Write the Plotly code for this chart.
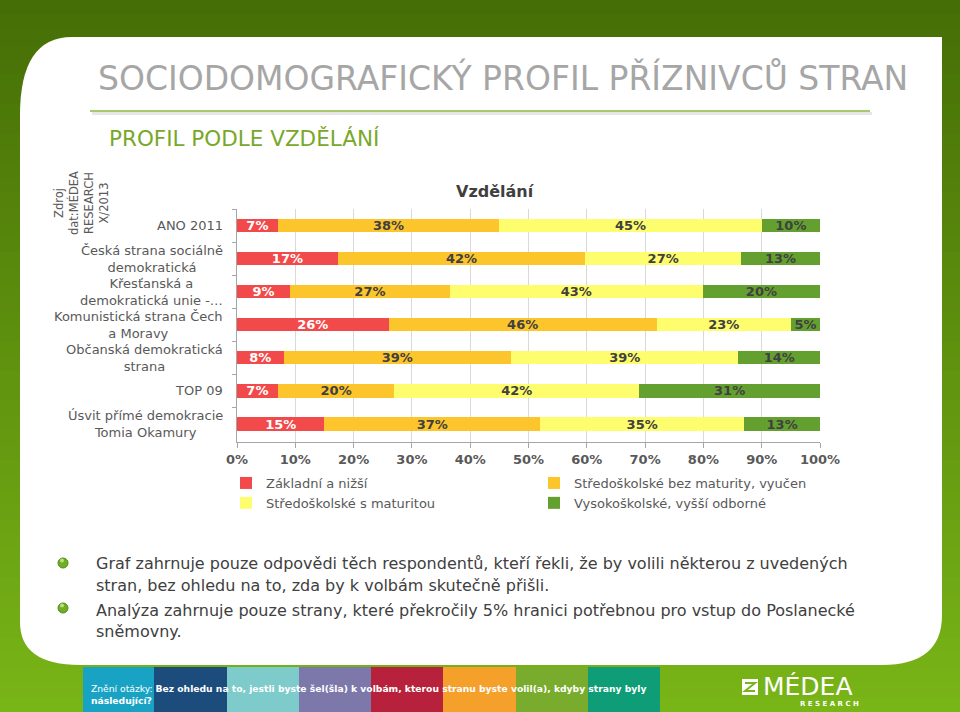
import plotly.graph_objects as go

# ---------------- data ----------------
parties = [
    "ANO 2011",
    "Česká strana sociálně demokratická",
    "Křesťanská a demokratická unie -…",
    "Komunistická strana Čech a Moravy",
    "Občanská demokratická strana",
    "TOP 09",
    "Úsvit přímé demokracie Tomia Okamury",
]
party_labels = [
    "ANO 2011",
    "Česká strana sociálně<br>demokratická",
    "Křesťanská a<br>demokratická unie -…",
    "Komunistická strana Čech<br>a Moravy",
    "Občanská demokratická<br>strana",
    "TOP 09",
    "Úsvit přímé demokracie<br>Tomia Okamury",
]
series_names = [
    "Základní a nižší",
    "Středoškolské bez maturity, vyučen",
    "Středoškolské s maturitou",
    "Vysokoškolské, vyšší odborné",
]
# shares in % (labels show them rounded)
zakladni = [7, 17.3, 9.1, 26, 8, 7, 15]
bez_maturity = [38, 42.4, 27.4, 46, 39, 20, 37]
s_maturitou = [45, 26.8, 43.4, 23, 39, 42, 35]
vysokoskolske = [10, 13.45, 20.1, 5, 14, 31, 13]
x_ticks = [0, 10, 20, 30, 40, 50, 60, 70, 80, 90, 100]
x_tick_labels = ["0%", "10%", "20%", "30%", "40%", "50%", "60%", "70%", "80%", "90%", "100%"]

series_values = [zakladni, bez_maturity, s_maturitou, vysokoskolske]
series_colors = ["#f24a4a", "#fdc52c", "#fdfd6e", "#64a030"]
label_colors = ["#ffffff", "#404040", "#404040", "#404040"]

FONT = "DejaVu Sans"

# ---------------- geometry helpers (pixel -> paper) ----------------
W_FIG, H_FIG = 960, 712
L, R, T, B = 237, 820, 209, 442
PW, PH = R - L, B - T


def px(x):
    return (x - L) / PW


def py(y):
    return (B - y) / PH


fig = go.Figure()
for name, vals, col, lc in zip(series_names, series_values, series_colors, label_colors):
    fig.add_trace(go.Bar(
        y=parties, x=vals, name=name, orientation="h",
        marker=dict(color=col, line=dict(width=0)),
        text=[f"{v:.0f}%" for v in vals], texttemplate="%{text}",
        textposition="inside", insidetextanchor="middle", textangle=0,
        textfont=dict(family=FONT, size=13, color=lc, weight="bold"),
        hoverinfo="skip",
    ))

shapes = []
# background gradient
top_c = (70, 110, 6)
bot_c = (120, 181, 23)
N = 48
for i in range(N):
    t = i / (N - 1)
    c = tuple(int(round(top_c[k] + (bot_c[k] - top_c[k]) * t)) for k in range(3))
    y0 = H_FIG * i / N
    y1 = H_FIG * (i + 1) / N + 1
    shapes.append(dict(type="rect", xref="paper", yref="paper", layer="below",
                       x0=px(0), x1=px(W_FIG), y0=py(y1), y1=py(y0),
                       line=dict(width=0), fillcolor="rgb(%d,%d,%d)" % c))


def P(x, y):
    return "%.5f,%.5f" % (px(x), py(y))


panel = ("M " + P(72, 37) + " L " + P(942, 37) + " L " + P(942, 615) +
         " Q " + P(942, 665) + " " + P(882, 665) + " L " + P(80, 665) +
         " Q " + P(20, 665) + " " + P(20, 622) + " L " + P(20, 115) +
         " Q " + P(20, 37) + " " + P(72, 37) + " Z")
shapes.append(dict(type="path", xref="paper", yref="paper", layer="below",
                   path=panel, fillcolor="#ffffff", line=dict(width=0)))

# title rule with soft shadow
shapes.append(dict(type="line", xref="paper", yref="paper", layer="below",
                   x0=px(92), x1=px(872), y0=py(113.5), y1=py(113.5),
                   line=dict(color="#e6e6e6", width=3)))
shapes.append(dict(type="line", xref="paper", yref="paper", layer="below",
                   x0=px(90), x1=px(870), y0=py(111), y1=py(111),
                   line=dict(color="#8db43c", width=1.6)))

# bottom colour strips
strip_x = [83, 154, 227, 299, 371, 443, 516, 588, 660]
strip_cols = ["#18a3c5", "#1b4c7c", "#7dcbca", "#7c78aa", "#b8213b",
              "#f5a02b", "#79ac2c", "#0f9d77"]
for i, col in enumerate(strip_cols):
    shapes.append(dict(type="rect", xref="paper", yref="paper", layer="below",
                       x0=px(strip_x[i]), x1=px(strip_x[i + 1]), y0=py(712), y1=py(667),
                       fillcolor=col, line=dict(width=0)))

# bullets
for by in (563, 608):
    shapes.append(dict(type="circle", xref="paper", yref="paper", layer="below",
                       x0=px(58), x1=px(68), y0=py(by + 5), y1=py(by - 5),
                       fillcolor="#6fae25", line=dict(color="#4f8a14", width=1)))
    shapes.append(dict(type="circle", xref="paper", yref="paper", layer="below",
                       x0=px(60), x1=px(64), y0=py(by - 0.5), y1=py(by - 4.5),
                       fillcolor="#b9e07a", line=dict(width=0)))

# logo icon
shapes.append(dict(type="rect", xref="paper", yref="paper", layer="below",
                   x0=px(742), x1=px(758), y0=py(695), y1=py(679),
                   fillcolor="#ffffff", line=dict(width=0)))
shapes.append(dict(type="path", xref="paper", yref="paper", layer="below",
                   path="M " + P(745, 683) + " L " + P(755, 683) + " L " + P(745, 691) +
                        " L " + P(755, 691),
                   line=dict(color="#79b41a", width=2)))

ann = []
gray = "#595959"
ann.append(dict(text="SOCIODOMOGRAFICKÝ PROFIL PŘÍZNIVCŮ STRAN",
                x=px(96), y=py(78), xanchor="left", yanchor="middle",
                font=dict(family=FONT, size=33, color="#a6a6a6")))
ann.append(dict(text="PROFIL PODLE VZDĚLÁNÍ", x=px(107), y=py(138),
                xanchor="left", yanchor="middle",
                font=dict(family=FONT, size=21.5, color="#78a82a")))
# chart title
ann.append(dict(text="<b>Vzdělání</b>", x=px(495), y=py(191), xanchor="center",
                yanchor="middle", font=dict(family=FONT, size=16, color="#404040")))
# source note (rotated)
ann.append(dict(text="Zdroj<br>dat:MÉDEA<br>RESEARCH<br>X/2013", x=px(82), y=py(203),
                xanchor="center", yanchor="middle", textangle=-90, align="center",
                font=dict(family=FONT, size=11.5, color=gray)))
# category labels (centred multi-line, right-anchored like Excel)
for p, lab in zip(parties, party_labels):
    ann.append(dict(text=lab, x=px(225), xref="paper", y=p, yref="y",
                    xanchor="right", yanchor="middle", align="center",
                    font=dict(family=FONT, size=13, color=gray)))
# bullet texts
lines = [
    ("Graf zahrnuje pouze odpovědi těch respondentů, kteří řekli, že by volili některou z uvedených", 563),
    ("stran, bez ohledu na to, zda by k volbám skutečně přišli.", 585),
    ("Analýza zahrnuje pouze strany, které překročily 5% hranici potřebnou pro vstup do Poslanecké", 610),
    ("sněmovny.", 631),
]
for txt, yy in lines:
    ann.append(dict(text=txt, x=px(94), y=py(yy), xanchor="left", yanchor="middle",
                    font=dict(family=FONT, size=16, color="#404040")))
# question strip text
ann.append(dict(text="Znění otázky: <b>Bez ohledu na to, jestli byste šel(šla) k volbám, kterou stranu byste volil(a), kdyby strany byly</b><br><b>následující?</b>",
                x=px(89), y=py(694), xanchor="left", yanchor="middle", align="left",
                font=dict(family=FONT, size=9.2, color="#ffffff")))
# logo text
ann.append(dict(text="MÉDEA", x=px(761), y=py(686), xanchor="left", yanchor="middle",
                font=dict(family=FONT, size=25, color="#ffffff")))
ann.append(dict(text="<b>R E S E A R C H</b>", x=px(829), y=py(704), xanchor="center",
                yanchor="middle", font=dict(family=FONT, size=7, color="#ffffff")))

for a in ann:
    a.setdefault("xref", "paper")
    a.setdefault("yref", "paper")
    a["showarrow"] = False

fig.update_layout(
    width=W_FIG, height=H_FIG,
    margin=dict(l=L, r=W_FIG - R, t=T, b=H_FIG - B, pad=0),
    paper_bgcolor="#5a8c10", plot_bgcolor="rgba(0,0,0,0)",
    barmode="stack", bargap=0.6,
    font=dict(family=FONT, color=gray),
    shapes=shapes, annotations=ann,
    uniformtext=dict(minsize=13, mode="show"),
    showlegend=True,
    legend=dict(orientation="h", x=px(226), xanchor="left", y=py(468), yanchor="top",
                entrywidth=263, bgcolor="rgba(0,0,0,0)", traceorder="normal",
                font=dict(family=FONT, size=13, color=gray), tracegroupgap=0),
    xaxis=dict(range=[0, 100], tickvals=x_ticks, ticktext=x_tick_labels,
               tickfont=dict(family=FONT, size=13, color=gray, weight="bold"),
               showgrid=True, gridcolor="#d9d9d9", gridwidth=1, zeroline=False,
               showline=True, linecolor="#a6a6a6", ticks="outside", ticklen=5,
               tickcolor="#a6a6a6", fixedrange=True),
    yaxis=dict(categoryorder="array", categoryarray=parties, autorange="reversed",
               showticklabels=False, showline=True, linecolor="#a6a6a6",
               ticks="outside", tickson="boundaries", ticklen=4, tickcolor="#a6a6a6",
               showgrid=False, zeroline=False, fixedrange=True),
)

fig.write_html("out.html", config={"displayModeBar": False},
               post_script="document.body.style.margin='0';document.body.style.overflow='hidden';")
